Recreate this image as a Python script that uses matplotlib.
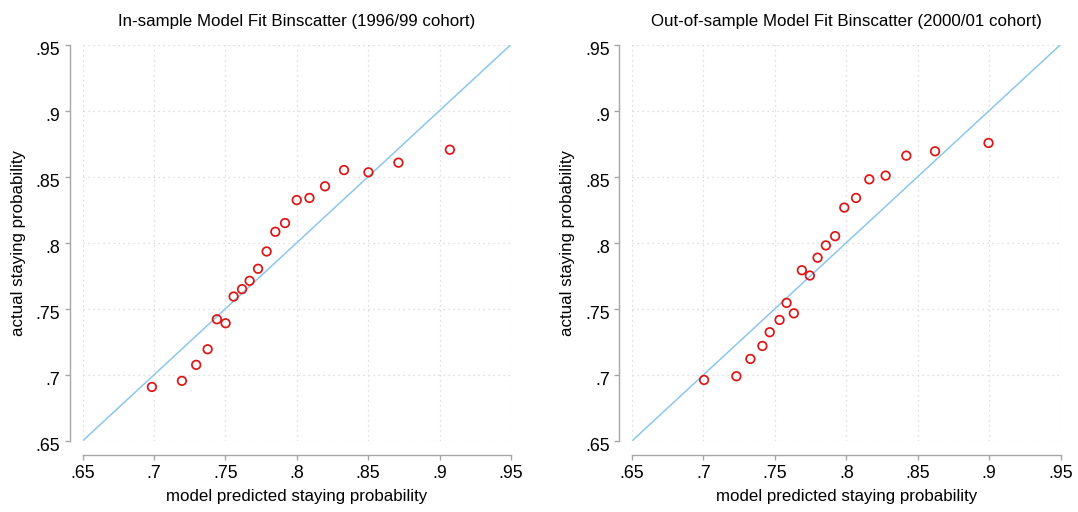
import matplotlib
matplotlib.use("Agg")
import matplotlib.pyplot as plt
from matplotlib.transforms import ScaledTranslation

plt.rcParams['font.family'] = ['Liberation Sans', 'DejaVu Sans']

# In-sample binscatter (1996/99 cohort)
in_pred = [0.6986, 0.7196, 0.7296, 0.7376, 0.7441, 0.7502, 0.7558, 0.7617, 0.7670, 0.7729,
           0.7789, 0.7850, 0.7918, 0.8000, 0.8089, 0.8198, 0.8331, 0.8502, 0.8712, 0.9072]
in_actual = [0.6909, 0.6955, 0.7076, 0.7194, 0.7421, 0.7391, 0.7593, 0.7649, 0.7712, 0.7803,
             0.7934, 0.8083, 0.8149, 0.8323, 0.8339, 0.8427, 0.8550, 0.8533, 0.8606, 0.8704]

# Out-of-sample binscatter (2000/01 cohort)
out_pred = [0.7005, 0.7231, 0.7329, 0.7413, 0.7464, 0.7533, 0.7582, 0.7633, 0.7689, 0.7745,
            0.7799, 0.7857, 0.7922, 0.7986, 0.8068, 0.8161, 0.8275, 0.8420, 0.8621, 0.8995]
out_actual = [0.6962, 0.6990, 0.7121, 0.7219, 0.7323, 0.7416, 0.7545, 0.7466, 0.7792, 0.7752,
              0.7887, 0.7980, 0.8050, 0.8266, 0.8339, 0.8480, 0.8508, 0.8659, 0.8692, 0.8755]

ticks = [0.65, 0.70, 0.75, 0.80, 0.85, 0.90, 0.95]
tick_labels = [".65", ".7", ".75", ".8", ".85", ".9", ".95"]
diag = [0.65, 0.95]

titles = ["In-sample Model Fit Binscatter (1996/99 cohort)",
          "Out-of-sample Model Fit Binscatter (2000/01 cohort)"]
xlabel = "model predicted staying probability"
ylabel = "actual staying probability"

W, H = 1078, 512
fig = plt.figure(figsize=(W / 100, H / 100), dpi=100)
fig.patch.set_facecolor("white")

panels = [(82.5, 511.0, in_pred, in_actual, titles[0]),
          (631.9, 1060.7, out_pred, out_actual, titles[1])]
top_px, bot_px = 44.5, 441.0

axis_grey = "#a6a6a6"
# y tick labels sit a few pixels below their ticks
ylab_shift = ScaledTranslation(0, -4 / 100, fig.dpi_scale_trans)

for x0, x1, xs, ys, title in panels:
    ax = fig.add_axes([x0 / W, 1 - bot_px / H, (x1 - x0) / W, (bot_px - top_px) / H])
    ax.set_xlim(0.65, 0.95)
    ax.set_ylim(0.65, 0.95)
    ax.set_xticks(ticks)
    ax.set_xticklabels(tick_labels)
    ax.set_yticks(ticks)
    ax.set_yticklabels(tick_labels)
    ax.grid(True, color="#d4d4d4", linestyle=(0, (1, 3)), linewidth=0.9)
    ax.set_axisbelow(True)
    for side in ("top", "right"):
        ax.spines[side].set_visible(False)
    ax.spines["left"].set_position(("outward", 9))
    ax.spines["bottom"].set_position(("outward", 10))
    for side in ("left", "bottom"):
        ax.spines[side].set_color(axis_grey)
        ax.spines[side].set_linewidth(1.0)
    ax.tick_params(axis="both", direction="out", length=3.3, width=1.0,
                   color=axis_grey, labelsize=12.8, labelcolor="black")
    ax.tick_params(axis="y", pad=3.6)
    ax.tick_params(axis="x", pad=4.0)
    for lab in ax.get_yticklabels():
        lab.set_transform(lab.get_transform() + ylab_shift)

    ax.plot(diag, diag, color="#8dc6ea", linewidth=1.1, zorder=2)
    ax.scatter(xs, ys, s=38, facecolors="none", edgecolors="#dd1515",
               linewidths=1.25, zorder=3, clip_on=False)

    ax.set_title(title, fontsize=12.2, pad=13)
    ax.set_xlabel(xlabel, fontsize=12.2, labelpad=5)
    ax.set_ylabel(ylabel, fontsize=12.2, labelpad=7)

fig.savefig("out.png", dpi=100, facecolor="white")
